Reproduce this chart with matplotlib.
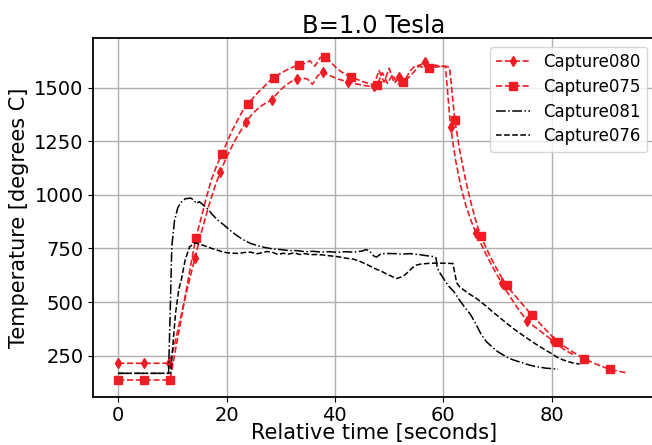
import matplotlib
matplotlib.use("Agg")
import matplotlib.pyplot as plt

# Capture075 (squares)
t075 = [0, 0.96, 1.91, 2.87, 3.82, 4.78, 5.74, 6.69, 7.65, 8.6, 9.56, 10.52, 11.47, 12.43, 13.38,
        14.34, 15.3, 16.25, 17.21, 18.16, 19.12, 20.08, 21.03, 21.99, 22.94, 23.9, 24.86, 25.81,
        26.77, 27.72, 28.68, 29.64, 30.59, 31.55, 32.5, 33.46, 34.42, 35.37, 36.33, 37.28, 38.24,
        39.2, 40.15, 41.11, 42.06, 43.02, 43.98, 44.93, 45.89, 46.84, 47.8, 48.76, 49.71, 50.67,
        51.62, 52.58, 53.54, 54.49, 55.45, 56.4, 57.36, 58.32, 59.27, 60.23, 61.18, 62.14, 63.1,
        64.05, 65.01, 65.96, 66.92, 67.88, 68.83, 69.79, 70.74, 71.7, 72.66, 73.61, 74.57, 75.52,
        76.48, 77.44, 78.39, 79.35, 80.3, 81.26, 82.22, 83.17, 84.13, 85.08, 86.04, 87.0, 87.95,
        88.91, 89.86, 90.82, 91.78, 92.73, 93.69]
v075 = [137, 137, 137, 137, 137, 137, 137, 137, 137, 137, 137,
        270, 400, 535, 670, 800,
        890, 985, 1070, 1135, 1189,
        1245, 1300, 1345, 1390, 1424,
        1450, 1478, 1500, 1525, 1547,
        1562, 1575, 1588, 1598, 1607,
        1612, 1625, 1600, 1640, 1645,
        1620, 1595, 1575, 1560, 1550,
        1540, 1530, 1522, 1515, 1511,
        1570, 1520, 1560, 1515, 1525,
        1545, 1570, 1600, 1595, 1590,
        1595, 1598, 1600, 1595,
        1349, 1200, 1080, 975, 885, 808,
        755, 705, 660, 617, 578,
        548, 520, 492, 464, 438,
        412, 386, 360, 336, 314,
        296, 280, 264, 250, 235,
        225, 214, 204, 195, 187,
        181, 176, 171]

# Capture080 (diamonds)
t080 = [0, 0.94, 1.89, 2.83, 3.78, 4.72, 5.66, 6.61, 7.55, 8.5, 9.44, 10.38, 11.33, 12.27, 13.22,
        14.16, 15.1, 16.05, 16.99, 17.94, 18.88, 19.82, 20.77, 21.71, 22.66, 23.6, 24.54, 25.49,
        26.43, 27.38, 28.32, 29.26, 30.21, 31.15, 32.1, 33.04, 33.98, 34.93, 35.87, 36.82, 37.76,
        38.7, 39.65, 40.59, 41.54, 42.48, 43.42, 44.37, 45.31, 46.26, 47.2, 48.14, 49.09, 50.03,
        50.98, 51.92, 52.86, 53.81, 54.75, 55.7, 56.64, 57.58, 58.53, 59.47, 60.42, 61.36, 62.3,
        63.25, 64.19, 65.14, 66.08, 67.02, 67.97, 68.91, 69.86, 70.8, 71.74, 72.69, 73.63, 74.58,
        75.52, 76.46, 77.41, 78.35, 79.3, 80.24, 81.18, 82.13, 83.07, 84.02]
v080 = [215, 215, 215, 215, 215, 215, 215, 215, 215, 215, 215,
        300, 405, 510, 610, 704,
        800, 890, 970, 1045, 1108,
        1165, 1215, 1260, 1300, 1341,
        1370, 1395, 1415, 1430, 1442,
        1470, 1495, 1515, 1530, 1539,
        1545, 1540, 1515, 1555, 1572,
        1560, 1550, 1540, 1533, 1528,
        1520, 1515, 1510, 1507, 1508,
        1580, 1525, 1590, 1520, 1551,
        1530, 1575, 1600, 1605, 1618,
        1600, 1605, 1600, 1598,
        1318, 1160, 1040, 950, 880, 821,
        770, 720, 675, 630, 590,
        550, 512, 476, 443, 412,
        393, 375, 357, 338, 320,
        300, 283, 268, 255]

# Capture081 (dash-dot)
t081 = [0, 9.3, 9.6, 9.9, 10.4, 11.0, 11.6, 12.4, 13.4, 14.0, 14.4, 15.0, 15.6, 16.5, 17.5,
        18.5, 19.5, 20.5, 21.5, 22.5, 23.5, 24.5, 25.5, 27.0, 28.5, 30.0, 31.5, 33.0, 34.5, 36.0,
        37.5, 39.0, 40.5, 42.0, 43.5, 45.0, 45.8, 46.5, 47.2, 47.7, 48.5, 49.5, 51.0, 52.5, 54.0,
        55.5, 57.0, 58.3, 58.7, 58.9, 59.3, 60.0, 61.0, 62.0, 63.0, 64.0, 65.0, 66.0, 67.0, 68.0,
        69.0, 70.0, 71.0, 72.0, 73.0, 74.0, 75.0, 76.0, 77.0, 78.0, 79.0, 80.0, 81.2]
v081 = [168, 168, 450, 760, 880, 940, 965, 982, 985, 975, 960, 968, 955, 935, 905,
        880, 860, 838, 818, 800, 785, 773, 765, 755, 748, 745, 740, 740, 735, 737,
        733, 735, 732, 735, 733, 738, 745, 735, 715, 710, 725, 727, 726, 724, 726,
        722, 716, 712, 705, 660, 640, 612, 575, 548, 510, 475, 444, 400, 350, 315,
        292, 270, 255, 240, 230, 222, 214, 206, 200, 196, 192, 190, 187]

# Capture076 (dashed)
t076 = [0, 9.7, 10.1, 10.6, 11.2, 11.7, 12.4, 13.2, 14.2, 15.0, 15.7, 16.5, 17.3, 18.2, 19.2,
        20.2, 21.2, 22.2, 23.2, 24.5, 25.5, 26.5, 27.5, 28.5, 29.5, 30.5, 31.5, 32.5, 33.5, 34.5,
        35.5, 36.5, 37.8, 39.0, 40.5, 42.0, 43.5, 44.6, 45.5, 46.5, 47.5, 48.5, 49.5, 50.5, 51.4,
        52.0, 52.7, 53.5, 54.3, 55.1, 56.0, 57.5, 59.0, 60.5, 61.8, 62.1, 62.5, 63.0, 64.0, 65.0,
        66.1, 67.0, 68.0, 69.0, 70.0, 71.0, 72.0, 73.0, 74.0, 75.0, 76.0, 77.0, 78.0, 79.0, 80.0,
        80.9, 82.0, 83.0, 84.0, 85.2]
v076 = [168, 168, 300, 450, 560, 610, 700, 758, 777, 770, 765, 757, 750, 743, 735,
        730, 728, 727, 731, 733, 725, 730, 736, 732, 722, 728, 724, 730, 722, 726,
        721, 722, 720, 716, 712, 705, 700, 690, 680, 668, 655, 645, 632, 620, 610,
        615, 622, 640, 660, 673, 678, 681, 682, 681, 680, 640, 590, 572, 553, 535,
        518, 500, 480, 458, 437, 416, 396, 376, 358, 340, 323, 306, 290, 275, 260,
        245, 232, 223, 216, 211]

xticks = [0, 20, 40, 60, 80]
yticks = [250, 500, 750, 1000, 1250, 1500]

fig = plt.figure(figsize=(6.52, 4.45), dpi=100)
ax = fig.add_axes([0.1422, 0.1085, 0.8632, 0.8055])

ax.plot(t080, v080, '--', color='#f01c24', marker='d', markersize=5.5, markevery=5, lw=1.2, label='Capture080')
ax.plot(t075, v075, '--', color='#f01c24', marker='s', markersize=6, markevery=5, lw=1.2, label='Capture075')
ax.plot(t081, v081, '-.', color='black', lw=1.1, label='Capture081')
ax.plot(t076, v076, '--', color='black', lw=1.1, label='Capture076')

ax.set_xlim(-4.7, 99.2)
ax.set_ylim(59, 1730)
ax.set_xticks(xticks)
ax.set_yticks(yticks)
ax.tick_params(labelsize=14, pad=3)
ax.grid(True, color='#b0b0b0', lw=1.0)
for s in ax.spines.values():
    s.set_linewidth(1.3)

ax.set_title('B=1.0 Tesla', fontsize=17.5, pad=4)
ax.set_xlabel('Relative time [seconds]', fontsize=15, labelpad=-1)
ax.set_ylabel('Temperature [degrees C]', fontsize=15)
ax.legend(loc='upper right', fontsize=12, labelspacing=0.4)

fig.savefig('out.png', dpi=100)
